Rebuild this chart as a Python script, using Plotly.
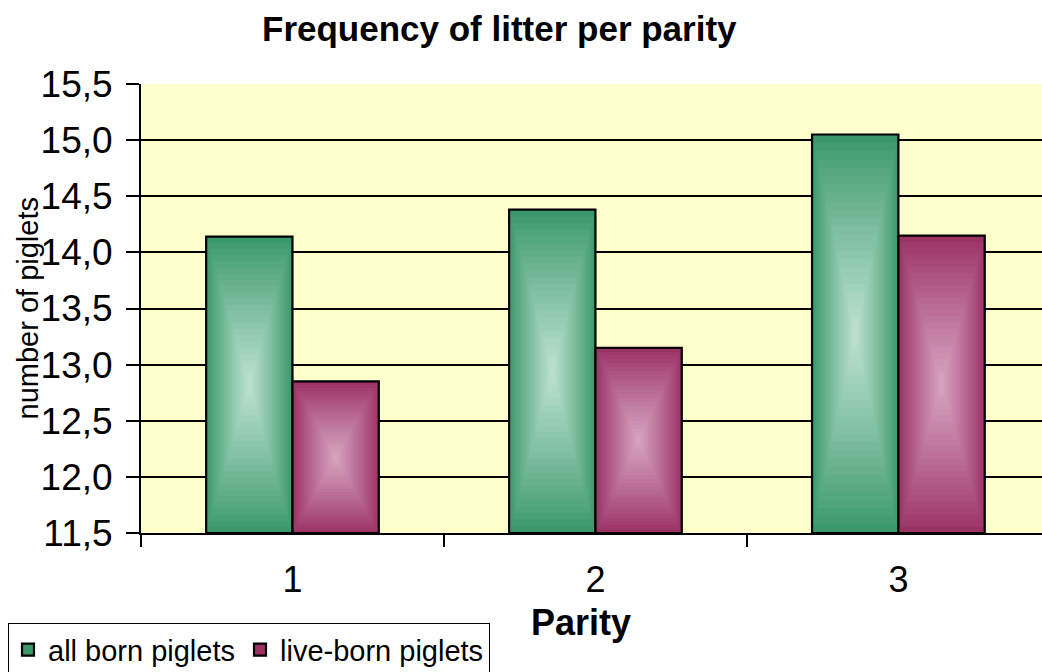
import plotly.graph_objects as go

categories = ["1", "2", "3"]
all_born = [14.14, 14.38, 15.05]
live_born = [12.85, 13.15, 14.15]
series_names = ["all born piglets", "live-born piglets"]

y_min, y_max = 11.5, 15.5
bar_w = 0.285
N = 24

green_edge = (58, 152, 106)
green_mid = (187, 225, 205)
maroon_edge = (155, 50, 100)
maroon_mid = (214, 162, 192)


def mix(a, b, t):
    return "rgb(%d,%d,%d)" % tuple(round(a[i] + (b[i] - a[i]) * t) for i in range(3))


fig = go.Figure()

for s_idx, (vals, edge, mid, name) in enumerate(
    [(all_born, green_edge, green_mid, series_names[0]),
     (live_born, maroon_edge, maroon_mid, series_names[1])]
):
    for k in range(N):
        s = 1 - k / N  # scale factor
        t = (k / (N - 1)) ** 0.9
        w = bar_w * s
        if s_idx == 0:
            off = -(bar_w + w) / 2
        else:
            off = (bar_w - w) / 2
        centers = [(y_min + v) / 2 for v in vals]
        heights = [(v - y_min) * s for v in vals]
        bases = [c - h / 2 for c, h in zip(centers, heights)]
        fig.add_trace(go.Bar(
            x=categories, y=heights, base=bases,
            width=w, offset=off,
            marker=dict(color=mix(edge, mid, t),
                        line=dict(color="black", width=2.2 if k == 0 else 0)),
            name=name, showlegend=(k == 0), legendgroup=name,
            hoverinfo="skip" if k else "y",
        ))

fig.update_layout(
    width=1042, height=672,
    autosize=False,
    barmode="overlay",
    separators=",.",
    paper_bgcolor="white",
    plot_bgcolor="#FFFFCC",
    margin=dict(l=141, r=0, t=84, b=139, autoexpand=False),
    font=dict(family="Liberation Sans, Arial, sans-serif", color="black"),
    showlegend=True,
    legend=dict(
        orientation="h", xref="container", yref="container",
        x=8 / 1042, y=1 - 623 / 672, xanchor="left", yanchor="top",
        bordercolor="black", borderwidth=1.3, bgcolor="white",
        font=dict(size=29), tracegroupgap=0, itemwidth=30,
    ),
    annotations=[
        dict(text="<b>Frequency of litter per parity</b>", xref="paper", yref="paper",
             x=(499 - 141) / 901, y=1, yshift=56, xanchor="center", yanchor="middle",
             showarrow=False, font=dict(size=35)),
        dict(text="number of piglets", xref="paper", yref="paper",
             x=(27 - 141) / 901, y=0.5, xanchor="center", yanchor="middle",
             textangle=-90, showarrow=False, font=dict(size=29)),
        dict(text="<b>Parity</b>", xref="paper", yref="paper",
             x=(581 - 141) / 901, y=0, yshift=-(622 - 533), xanchor="center",
             yanchor="middle", showarrow=False, font=dict(size=36)),
    ],
)

fig.update_xaxes(
    type="category", range=[-0.5, 2.474], automargin=False,
    tickson="boundaries", ticks="outside", ticklen=12, tickwidth=2, tickcolor="black",
    showline=True, linecolor="black", linewidth=2, showgrid=False,
    tickfont=dict(size=36), ticklabelstandoff=14,
)
fig.update_yaxes(
    range=[y_min, y_max], dtick=0.5, tick0=11.5, tickformat=".1f", automargin=False,
    ticks="outside", ticklen=13, tickwidth=2, tickcolor="black",
    showline=True, linecolor="black", linewidth=2,
    showgrid=True, gridcolor="black", gridwidth=2,
    tickfont=dict(size=37), zeroline=False, ticklabelstandoff=6,
)

post = ("document.body.style.margin='0';document.body.style.overflow='hidden';"
        "var gd=document.getElementById('{plot_id}');"
        "Plotly.relayout(gd,{width:1042,height:672});")

fig.write_html("out.html", config={"responsive": False, "displayModeBar": False},
               post_script=post)
